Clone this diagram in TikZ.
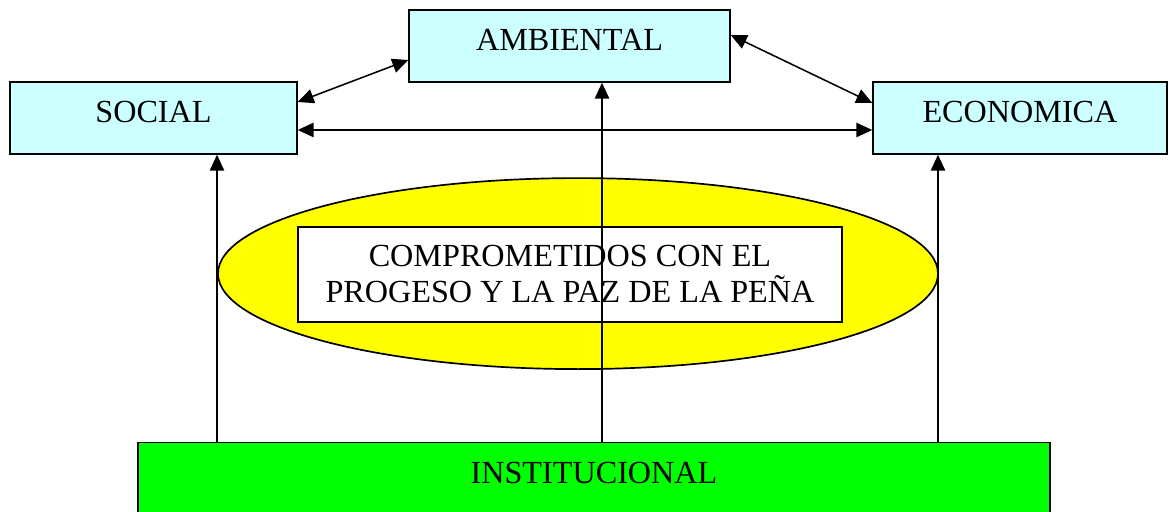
\documentclass[tikz,border=0pt]{standalone}
\usepackage{fontspec}
\setmainfont{Liberation Serif}
\usepackage{xcolor}
\usepackage{tikz}
\usetikzlibrary{positioning}
\usetikzlibrary{shapes.geometric}
\usetikzlibrary{arrows.meta}
\pgfdeclarelayer{nodelayer}
\pgfdeclarelayer{edgelayer}
\pgfsetlayers{nodelayer,edgelayer,main}
\definecolor{paleblue}{HTML}{CCFFFF}
\definecolor{brightyellow}{HTML}{FFFF00}
\definecolor{brightgreen}{HTML}{00FF00}
\tikzset{
    area/.style = {draw, line width=1pt, inner sep=0pt, text height=1.025cm, text depth=0.775cm,
                   font=\fontsize{22.9}{25.6}\selectfont},
    oval/.style = {draw, ellipse, line width=1.2pt, fill=brightyellow, inner sep=0pt},
    motto/.style = {draw, line width=1pt, fill=white, align=center, inner sep=0pt,
                    font=\fontsize{22.9}{25.6}\selectfont},
    link/.style = {line width=1.1pt, -{Triangle[length=0.4cm,width=0.36cm]}},
    twoway/.style = {line width=1.1pt, {Triangle[length=0.4cm,width=0.36cm]}-{Triangle[length=0.4cm,width=0.36cm]}}
}

\begin{document}
\begin{tikzpicture}
  \useasboundingbox (0, 0) rectangle (29.225, -12.8);
  \begin{pgfonlayer}{nodelayer}
    \node [oval, minimum width=18cm, minimum height=4.775cm] (oval) at (14.45, -6.84) {};
    \node [motto, minimum width=13.6cm, minimum height=2.375cm] (motto) at (14.25, -6.86)
      {COMPROMETIDOS CON EL\\PROGESO Y LA PAZ DE LA PEÑA};
    \node [area, fill=paleblue, minimum width=8.025cm] (ambiental) at (14.2375, -1.15) {AMBIENTAL};
    \node [area, fill=paleblue, minimum width=7.175cm] (social) at (3.8375, -2.95) {SOCIAL};
    \node [area, fill=paleblue, minimum width=7.35cm] (economica) at (25.5, -2.95) {ECONOMICA};
    \node [area, fill=brightgreen, anchor=north, minimum width=22.8cm] (inst) at (14.85, -11.05) {INSTITUCIONAL};
    \coordinate (s) at (5.425, 0);
    \coordinate (a) at (15.05, 0);
    \coordinate (e) at (23.45, 0);
  \end{pgfonlayer}
  \begin{pgfonlayer}{edgelayer}
    \draw [link] (inst.north -| s) to (social.south -| s);
    \draw [link] (inst.north -| a) to (ambiental.south -| a);
    \draw [link] (inst.north -| e) to (economica.south -| e);
    \draw [twoway] ([yshift=0.4cm]social.east) to ([yshift=-0.35cm]ambiental.west);
    \draw [twoway] ([yshift=0.275cm]ambiental.east) to ([yshift=0.375cm]economica.west);
    \draw [twoway] ([yshift=-0.3cm]social.east) to ([yshift=-0.3cm]economica.west);
  \end{pgfonlayer}
\end{tikzpicture}
\end{document}
